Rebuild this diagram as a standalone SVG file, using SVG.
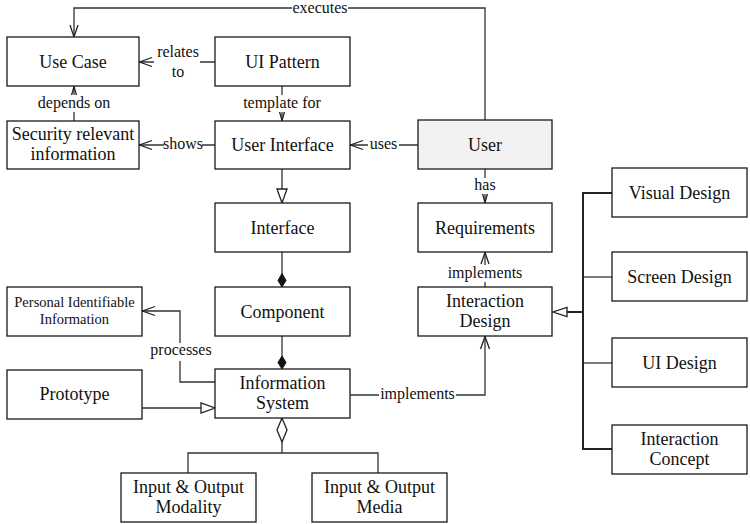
<svg xmlns="http://www.w3.org/2000/svg" width="750" height="524" viewBox="0 0 750 524" font-family="'Liberation Serif', Tinos, 'Times New Roman', 'DejaVu Serif', 'Noto Serif', serif">
  <defs>
    <style>
      .box { fill: #ffffff; stroke: #1a1a1a; stroke-width: 1.3; }
      .user { fill: #f2f2f2; }
      text { font-family: 'Liberation Serif', Tinos, 'Times New Roman', 'DejaVu Serif', 'Noto Serif', serif; fill: #111; text-anchor: middle; }
      .t { font-size: 18px; }
      .ts { font-size: 14.5px; }
      .lbl { font-size: 16px; }
      .ln { fill: none; stroke: #333; stroke-width: 1.3; }
      .bus { fill: none; stroke: #222; stroke-width: 2; }
      .lb { fill: #ffffff; stroke: none; }
      .open { fill: none; stroke: #222; stroke-width: 1.3; }
      .hollow { fill: #ffffff; stroke: #222; stroke-width: 1.3; }
      .solid { fill: #111; stroke: #111; stroke-width: 1; }
    </style>
  </defs>

  <!-- connectors -->
  <g id="connectors">
    <!-- User executes Use Case -->
    <polyline class="ln" points="485,120 485,8 74,8 74,37"/>
    <polyline class="open" points="70,25 74,37 78,25"/>
    <!-- UI Pattern relates to Use Case -->
    <line class="ln" x1="215" y1="62" x2="139" y2="62"/>
    <polyline class="open" points="152,57.5 139.5,62 152,66.5"/>
    <!-- UI Pattern template for User Interface -->
    <line class="ln" x1="282" y1="86" x2="282" y2="121"/>
    <polyline class="open" points="279,110 282,120.5 285,110"/>
    <!-- Security relevant information depends on Use Case -->
    <line class="ln" x1="74" y1="121" x2="74" y2="86"/>
    <polyline class="open" points="71,97 74,86.5 77,97"/>
    <!-- User Interface shows Security relevant information -->
    <line class="ln" x1="215" y1="145" x2="139" y2="145"/>
    <polyline class="open" points="152,140.5 139.5,145 152,149.5"/>
    <!-- User uses User Interface -->
    <line class="ln" x1="418" y1="145" x2="350" y2="145"/>
    <polyline class="open" points="363,140.5 350.5,145 363,149.5"/>
    <!-- User Interface generalises Interface -->
    <line class="ln" x1="282" y1="169" x2="282" y2="189"/>
    <polygon class="hollow" points="277,189 287,189 282,203"/>
    <!-- Interface composed into Component -->
    <line class="ln" x1="282" y1="252" x2="282" y2="274"/>
    <polygon class="solid" points="282,273.5 286,280.5 282,287 278,280.5"/>
    <!-- Component composed into Information System -->
    <line class="ln" x1="282" y1="336" x2="282" y2="357"/>
    <polygon class="solid" points="282,356 286,362.5 282,369 278,362.5"/>
    <!-- Information System processes Personal Identifiable Information -->
    <polyline class="ln" points="215,382 180,382 180,311 142,311"/>
    <polyline class="open" points="155,306.5 142.5,311 155,315.5"/>
    <!-- Prototype generalises Information System -->
    <line class="ln" x1="142" y1="408" x2="201" y2="408"/>
    <polygon class="hollow" points="201,403 201,413 215,408"/>
    <!-- Information System aggregates Input & Output parts -->
    <polygon class="hollow" points="282,418 287,430 282,442 277,430"/>
    <polyline class="ln" points="282,442 282,453"/>
    <polyline class="ln" points="188,473 188,453 378,453 378,473"/>
    <!-- Information System implements Interaction Design -->
    <polyline class="ln" points="350,395 485,395 485,336"/>
    <polyline class="open" points="480.5,349 485,336.5 489.5,349"/>
    <!-- User has Requirements -->
    <line class="ln" x1="485" y1="169" x2="485" y2="203"/>
    <polyline class="open" points="482,192 485,202.5 488,192"/>
    <!-- Interaction Design implements Requirements -->
    <line class="ln" x1="485" y1="287" x2="485" y2="252"/>
    <polyline class="open" points="481,264 485,252.5 489,264"/>
    <!-- design kinds generalise Interaction Design -->
    <polyline class="bus" points="612,193 583,193 583,449 612,449"/>
    <line class="ln" x1="583" y1="277" x2="612" y2="277"/>
    <line class="ln" x1="583" y1="363" x2="612" y2="363"/>
    <line class="bus" x1="567" y1="312" x2="583" y2="312"/>
    <polygon class="hollow" points="567,307.5 567,316.5 553,312"/>

    <!-- labels -->
    <rect class="lb" x="292" y="1" width="56" height="14"/>
    <text class="lbl" x="320" y="12.5">executes</text>
    <rect class="lb" x="154" y="46" width="46" height="32"/>
    <text class="lbl" x="178" y="57">relates</text>
    <text class="lbl" x="178" y="77">to</text>
    <rect class="lb" x="243" y="95" width="79" height="17"/>
    <text class="lbl" x="282" y="108">template for</text>
    <rect class="lb" x="37" y="95" width="74" height="17"/>
    <text class="lbl" x="74" y="108">depends on</text>
    <rect class="lb" x="164" y="137" width="38" height="16"/>
    <text class="lbl" x="183" y="149">shows</text>
    <rect class="lb" x="368" y="137" width="31" height="16"/>
    <text class="lbl" x="383.5" y="149">uses</text>
    <rect class="lb" x="472" y="178" width="26" height="16"/>
    <text class="lbl" x="485" y="190">has</text>
    <rect class="lb" x="446" y="265" width="78" height="17"/>
    <text class="lbl" x="485" y="278">implements</text>
    <rect class="lb" x="150" y="343" width="62" height="18"/>
    <text class="lbl" x="181" y="355">processes</text>
    <rect class="lb" x="379" y="387" width="77" height="16"/>
    <text class="lbl" x="417.5" y="399">implements</text>
  </g>

  <!-- nodes -->
  <g id="use-case">
    <rect class="box" x="7" y="37" width="132" height="49"/>
    <text class="t" x="73" y="67.5">Use Case</text>
  </g>
  <g id="ui-pattern">
    <rect class="box" x="215" y="37" width="135" height="49"/>
    <text class="t" x="282.5" y="67.5">UI Pattern</text>
  </g>
  <g id="security-relevant-information">
    <rect class="box" x="7" y="121" width="132" height="48"/>
    <text class="t" x="73" y="140">Security relevant</text>
    <text class="t" x="73" y="160">information</text>
  </g>
  <g id="user-interface">
    <rect class="box" x="215" y="121" width="135" height="48"/>
    <text class="t" x="282.5" y="151">User Interface</text>
  </g>
  <g id="user">
    <rect class="box user" x="418" y="120" width="134" height="49"/>
    <text class="t" x="485" y="150.5">User</text>
  </g>
  <g id="interface">
    <rect class="box" x="215" y="203" width="135" height="49"/>
    <text class="t" x="282.5" y="233.5">Interface</text>
  </g>
  <g id="requirements">
    <rect class="box" x="418" y="203" width="134" height="49"/>
    <text class="t" x="485" y="233.5">Requirements</text>
  </g>
  <g id="personal-identifiable-information">
    <rect class="box" x="7" y="287" width="135" height="49"/>
    <text class="ts" x="74.5" y="307">Personal Identifiable</text>
    <text class="ts" x="74.5" y="324">Information</text>
  </g>
  <g id="component">
    <rect class="box" x="215" y="287" width="135" height="49"/>
    <text class="t" x="282.5" y="317.5">Component</text>
  </g>
  <g id="interaction-design">
    <rect class="box" x="418" y="287" width="134" height="49"/>
    <text class="t" x="485" y="306.5">Interaction</text>
    <text class="t" x="485" y="326.5">Design</text>
  </g>
  <g id="prototype">
    <rect class="box" x="7" y="370" width="135" height="49"/>
    <text class="t" x="74.5" y="400">Prototype</text>
  </g>
  <g id="information-system">
    <rect class="box" x="215" y="369" width="135" height="49"/>
    <text class="t" x="282.5" y="388.5">Information</text>
    <text class="t" x="282.5" y="408.5">System</text>
  </g>
  <g id="input-output-modality">
    <rect class="box" x="121" y="473" width="135" height="49"/>
    <text class="t" x="188.5" y="493">Input &amp; Output</text>
    <text class="t" x="188.5" y="513">Modality</text>
  </g>
  <g id="input-output-media">
    <rect class="box" x="312" y="473" width="135" height="49"/>
    <text class="t" x="379.5" y="493">Input &amp; Output</text>
    <text class="t" x="379.5" y="513">Media</text>
  </g>
  <g id="visual-design">
    <rect class="box" x="612" y="168" width="135" height="49"/>
    <text class="t" x="679.5" y="198.5">Visual Design</text>
  </g>
  <g id="screen-design">
    <rect class="box" x="612" y="252" width="135" height="49"/>
    <text class="t" x="679.5" y="282.5">Screen Design</text>
  </g>
  <g id="ui-design">
    <rect class="box" x="612" y="338" width="135" height="49"/>
    <text class="t" x="679.5" y="368.5">UI Design</text>
  </g>
  <g id="interaction-concept">
    <rect class="box" x="612" y="425" width="135" height="49"/>
    <text class="t" x="679.5" y="444.5">Interaction</text>
    <text class="t" x="679.5" y="464.5">Concept</text>
  </g>
</svg>
